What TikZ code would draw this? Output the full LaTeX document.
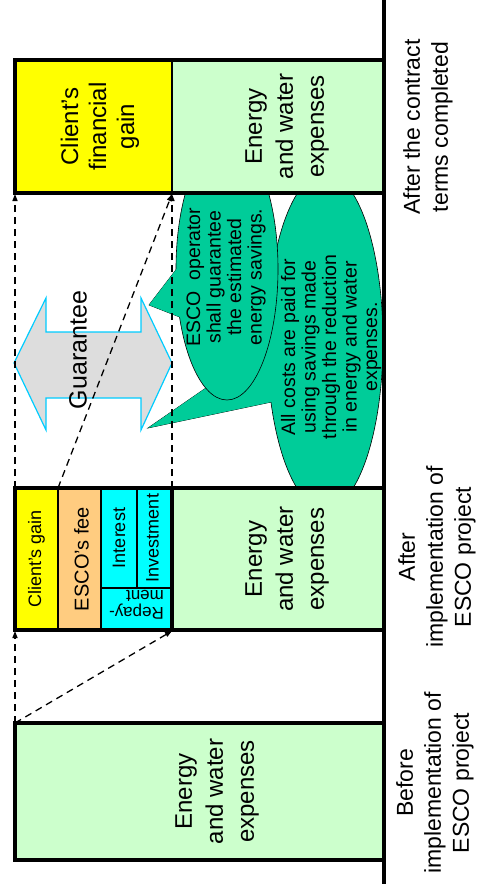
\documentclass[tikz,border=0pt]{standalone}
\usepackage{fontspec}
\setmainfont{Liberation Sans}
\usetikzlibrary{arrows.meta}

\definecolor{energygreen}{HTML}{CCFFCC}
\definecolor{gainyellow}{HTML}{FFFF00}
\definecolor{feeorange}{HTML}{FFCC80}
\definecolor{loancyan}{HTML}{00FFFF}
\definecolor{bubblegreen}{HTML}{00CC99}
\definecolor{guarline}{HTML}{00CCFF}
\definecolor{guarfill}{HTML}{DDDDDD}

\newcommand{\fsize}[2]{\fontsize{#1}{#2}\selectfont}

\begin{document}
\begin{tikzpicture}[x=1pt, y=-1pt,
    every node/.style={align=center, inner sep=0pt},
    cell/.style={draw=black, line width=1.7pt},
    barframe/.style={draw=black, line width=3.3pt},
    bigtext/.style={rotate=90, font=\fsize{24}{31}},
    celltext/.style={rotate=90, font=\fsize{18}{16}},
    stagetext/.style={rotate=90, font=\fsize{23}{28}},
    bubble/.style={fill=bubblegreen, draw=black, line width=0.6pt},
    bubbletext/.style={rotate=90, font=\fsize{19.5}{20.5}},
    guarantee/.style={fill=guarfill, draw=guarline, line width=1.2pt},
    movearrow/.style={line width=1.3pt, dash pattern=on 7pt off 5pt,
      -{Triangle[length=7pt,width=5pt]}}]
  \useasboundingbox (0,0) rectangle (482,884);

  % callouts
  \coordinate (tippay) at (148,428);
  \coordinate (tipsave) at (149,305);
  \filldraw[bubble] (tippay) -- (300,323) -- (300,396) -- cycle;
  \filldraw[bubble] (325,341) ellipse [x radius=58pt, y radius=168pt];
  \fill[bubblegreen] (tippay) -- (300,323) -- (300,396) -- cycle;
  \filldraw[bubble] (tipsave) -- (195,245) -- (195,323) -- cycle;
  \filldraw[bubble] (227,269) ellipse [x radius=51pt, y radius=131pt];
  \fill[bubblegreen] (tipsave) -- (195,245) -- (195,323) -- cycle;

  % guarantee
  \filldraw[guarantee] (14,363) -- (46,298) -- (46,332) -- (141,332) -- (141,298)
    -- (172,363) -- (141,430) -- (141,398) -- (46,398) -- (46,430) -- cycle;
  \node[rotate=90, font=\fsize{25}{30}] (guartxt) at (78,350) {Guarantee};

  % after the contract
  \draw[cell, fill=gainyellow] (15,60) rectangle (172,193)
    node[pos=.5, xshift=6.5pt, bigtext, font=\fsize{24}{28}] (gaintxt) {Client’s\\financial\\gain};
  \draw[cell, fill=energygreen] (172,60) rectangle (384,193)
    node[pos=.5, xshift=9pt, bigtext] (laterexp) {Energy\\and water\\expenses};
  \draw[barframe] (15,60) rectangle (384,193);

  % after implementation
  \draw[cell, fill=gainyellow] (15,488) rectangle (58,630)
    node[pos=.5, celltext] (smallgain) {Client’s gain};
  \draw[cell, fill=feeorange] (58,488) rectangle (101,630)
    node[pos=.5, xshift=2pt, celltext, font=\fsize{20}{24}] (fee) {ESCO’s fee};
  \draw[cell, fill=loancyan] (101,488) rectangle (137,588)
    node[pos=.5, celltext] (interest) {Interest};
  \draw[cell, fill=loancyan] (137,488) rectangle (172,588)
    node[pos=.5, xshift=-2pt, celltext] (invest) {Investment};
  \draw[cell, fill=loancyan] (101,588) rectangle (172,630)
    node[pos=.5, yshift=4pt, celltext, rotate=90, align=left, font=\fsize{17}{17.5}] (repay) {Repay-\\ment};
  \draw[cell, fill=energygreen] (172,488) rectangle (384,630)
    node[pos=.5, xshift=9pt, bigtext] (nowexp) {Energy\\and water\\expenses};
  \draw[barframe] (15,488) rectangle (384,630);
  \draw[barframe] (172,488) -- (172,630);

  % before
  \draw[barframe, fill=energygreen] (15,723) rectangle (384,860)
    node[pos=.5, xshift=17.5pt, bigtext] (oldexp) {Energy\\and water\\expenses};

  % shifts between the bars
  \coordinate (oldtop) at (15,723);
  \coordinate (nowbotleft) at (15,631);
  \coordinate (nowbotmid) at (172,631);
  \coordinate (nowtopleft) at (15,488);
  \coordinate (nowtopgain) at (58,488);
  \coordinate (nowtopmid) at (172,488);
  \coordinate (endbotleft) at (15,194);
  \coordinate (endbotmid) at (172,194);
  \draw[movearrow] (oldtop) -- (nowbotleft);
  \draw[movearrow] (oldtop) -- (nowbotmid);
  \draw[movearrow] (nowtopleft) -- (endbotleft);
  \draw[movearrow] (nowtopgain) -- (endbotmid);
  \draw[movearrow] (nowtopmid) -- (endbotmid);

  % callout texts
  \node[bubbletext] (savetxt) at (226,277) {ESCO\ \ operator\\shall guarantee\\the estimated\\energy savings.};
  \node[bubbletext] (paytxt) at (331,347) {All costs are paid for\\using savings made\\through the reduction\\in energy and water\\expenses.};

  % time axis
  \draw[line width=3.3pt] (384,0) -- (384,884);
  \node[stagetext] (stagebefore) at (435,783) {Before\\implementation of\\ESCO project};
  \node[stagetext] (stagenow) at (437,557) {After\\implementation of\\ESCO project};
  \node[stagetext] (stageend) at (428,127) {After the contract\\terms completed};
\end{tikzpicture}
\end{document}
